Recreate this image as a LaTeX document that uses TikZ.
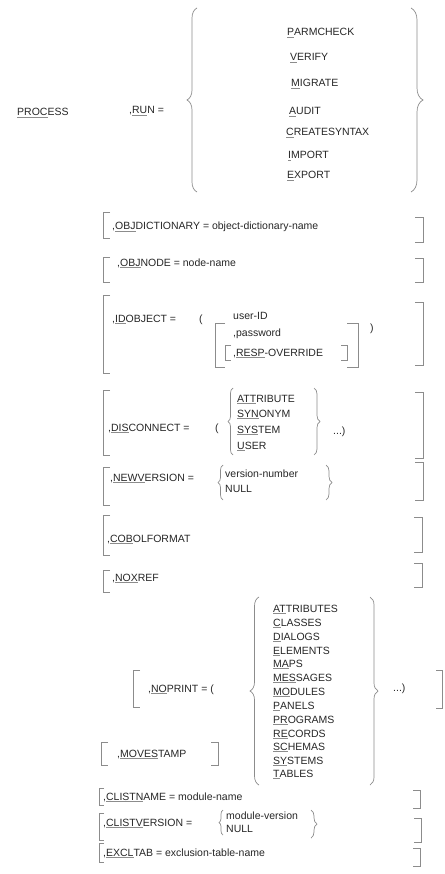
\documentclass[tikz,border=0pt]{standalone}
\usepackage{fontspec}
\setmainfont{Liberation Sans}
\usetikzlibrary{decorations.pathreplacing}

\newcommand{\abbr}[1]{{\color{black!45}\underline{\textcolor{black!85}{#1}}}}

\begin{document}
\begin{tikzpicture}[x=1pt, y=-1pt,
		every node/.style={anchor=base west, inner sep=0pt, text=black!85,
			font=\fontsize{10.5}{12}\selectfont},
		bracket/.style={draw=black!45, line width=0.7pt},
		curly/.style={draw=black!45, line width=0.7pt, decorate,
			decoration={brace, amplitude=#1}},
		curly/.default=5pt]

		\useasboundingbox (0,0) rectangle (444,874);

		% PROCESS RUN
		\node (process) at (17, 116) {\abbr{PROC}ESS};
		\node (run) at (129, 114) {,\abbr{RU}N =};
		\draw[curly=10pt] (197, 192) -- (197, 8);
		\node (parmcheck) at (287, 36) {\abbr{P}ARMCHECK};
		\node (verify) at (290, 61) {\abbr{V}ERIFY};
		\node (migrate) at (291, 87) {\abbr{M}IGRATE};
		\node (audit) at (289, 115) {\abbr{A}UDIT};
		\node (createsyntax) at (286, 136) {\abbr{C}REATESYNTAX};
		\node (import) at (288, 159) {\abbr{I}MPORT};
		\node (export) at (287, 179) {\abbr{E}XPORT};
		\draw[curly=12pt] (411, 8) -- (411, 192);

		% OBJDICTIONARY
		\draw[bracket] (110, 212) -- (103, 212) -- (103, 238) -- (110, 238);
		\node (objdict) at (112, 230) {,\abbr{OBJ}DICTIONARY = object-dictionary-name};
		\draw[bracket] (415, 217) -- (423, 217) -- (423, 242) -- (415, 242);

		% OBJNODE
		\draw[bracket] (110, 257) -- (103, 257) -- (103, 282) -- (110, 282);
		\node (objnode) at (117, 266) {,\abbr{OBJ}NODE = node-name};
		\draw[bracket] (415, 258) -- (423, 258) -- (423, 282) -- (415, 282);

		% IDOBJECT
		\draw[bracket] (110, 295) -- (103, 295) -- (103, 373) -- (110, 373);
		\node (idobject) at (112, 322) {,\abbr{ID}OBJECT =};
		\node (idopen) at (199, 322) {(};
		\node (userid) at (233, 319) {user-ID};
		\draw[bracket] (225, 323) -- (215, 323) -- (215, 367) -- (225, 367);
		\node (password) at (233, 336) {,password};
		\draw[bracket] (231, 345) -- (225, 345) -- (225, 360) -- (231, 360);
		\node (respoverride) at (233, 356) {,\abbr{RESP}-OVERRIDE};
		\draw[bracket] (341, 345) -- (347, 345) -- (347, 360) -- (341, 360);
		\draw[bracket] (347, 323) -- (358, 323) -- (358, 367) -- (347, 367);
		\node (idclose) at (370, 331) {)};
		\draw[bracket] (415, 302) -- (423, 302) -- (423, 365) -- (415, 365);

		% DISCONNECT
		\draw[bracket] (110, 390) -- (103, 390) -- (103, 455) -- (110, 455);
		\node (disconnect) at (108, 431) {,\abbr{DIS}CONNECT =};
		\node (discopen) at (215, 431) {(};
		\draw[curly] (233, 455) -- (233, 388);
		\node (attribute) at (237, 402) {\abbr{ATT}RIBUTE};
		\node (synonym) at (237, 417) {\abbr{SYN}ONYM};
		\node (system) at (237, 433) {\abbr{SYS}TEM};
		\node (user) at (237, 449) {\abbr{U}SER};
		\draw[curly=6pt] (314, 388) -- (314, 455);
		\node (discclose) at (333, 434) {...)};
		\draw[bracket] (415, 392) -- (423, 392) -- (423, 458) -- (415, 458);

		% NEWVERSION
		\draw[bracket] (110, 467) -- (103, 467) -- (103, 505) -- (110, 505);
		\node (newversion) at (110, 481) {,\abbr{NEWV}ERSION =};
		\draw[curly] (223, 500) -- (223, 465);
		\node (versionnumber) at (225, 477) {version-number};
		\node (versionnull) at (225, 492) {NULL};
		\draw[curly=6pt] (326, 465) -- (326, 500);
		\draw[bracket] (415, 462) -- (423, 462) -- (423, 500) -- (415, 500);

		% COBOLFORMAT
		\draw[bracket] (110, 515) -- (103, 515) -- (103, 555) -- (110, 555);
		\node (cobolformat) at (107, 542) {,\abbr{COB}OLFORMAT};
		\draw[bracket] (414, 517) -- (422, 517) -- (422, 552) -- (414, 552);

		% NOXREF
		\draw[bracket] (110, 570) -- (103, 570) -- (103, 592) -- (110, 592);
		\node (noxref) at (112, 581) {,\abbr{NOX}REF};
		\draw[bracket] (414, 563) -- (422, 563) -- (422, 587) -- (414, 587);

		% NOPRINT
		\draw[bracket] (140, 670) -- (133, 670) -- (133, 707) -- (140, 707);
		\node (noprint) at (148, 692) {,\abbr{NO}PRINT = (};
		\draw[curly=9pt] (259, 785) -- (259, 597);
		\node (attributes) at (273, 612) {\abbr{AT}TRIBUTES};
		\node (classes) at (273, 626) {\abbr{C}LASSES};
		\node (dialogs) at (273, 640) {\abbr{D}IALOGS};
		\node (elements) at (273, 654) {\abbr{E}LEMENTS};
		\node (maps) at (273, 667) {\abbr{MA}PS};
		\node (messages) at (273, 681) {\abbr{MES}SAGES};
		\node (modules) at (273, 695) {\abbr{MO}DULES};
		\node (panels) at (273, 709) {\abbr{P}ANELS};
		\node (programs) at (273, 723) {\abbr{PR}OGRAMS};
		\node (records) at (273, 737) {\abbr{RE}CORDS};
		\node (schemas) at (273, 750) {\abbr{SC}HEMAS};
		\node (systems) at (273, 764) {\abbr{SY}STEMS};
		\node (tables) at (273, 777) {\abbr{T}ABLES};
		\draw[curly=8pt] (370, 597) -- (370, 785);
		\node (printclose) at (393, 691) {...)};
		\draw[bracket] (436, 670) -- (442, 670) -- (442, 708) -- (436, 708);

		% MOVESTAMP
		\draw[bracket] (108, 742) -- (101, 742) -- (101, 765) -- (108, 765);
		\node (movestamp) at (117, 757) {,\abbr{MOVES}TAMP};
		\draw[bracket] (211, 742) -- (218, 742) -- (218, 765) -- (211, 765);

		% CLISTNAME
		\draw[bracket] (104, 788) -- (99, 788) -- (99, 805) -- (104, 805);
		\node (clistname) at (103, 800) {,\abbr{CLISTN}AME = module-name};
		\draw[bracket] (413, 790) -- (420, 790) -- (420, 808) -- (413, 808);

		% CLISTVERSION
		\draw[bracket] (104, 813) -- (99, 813) -- (99, 840) -- (104, 840);
		\node (clistversion) at (103, 826) {,\abbr{CLISTV}ERSION =};
		\draw[curly=4pt] (223, 835) -- (223, 810);
		\node (moduleversion) at (226, 819) {module-version};
		\node (clistnull) at (226, 832) {NULL};
		\draw[curly=6pt] (311, 810) -- (311, 838);
		\draw[bracket] (414, 818) -- (421, 818) -- (421, 842) -- (414, 842);

		% EXCLTAB
		\draw[bracket] (104, 843) -- (99, 843) -- (99, 862) -- (104, 862);
		\node (excltab) at (103, 856) {,\abbr{EXCL}TAB = exclusion-table-name};
		\draw[bracket] (413, 848) -- (420, 848) -- (420, 866) -- (413, 866);
	\end{tikzpicture}
\end{document}
